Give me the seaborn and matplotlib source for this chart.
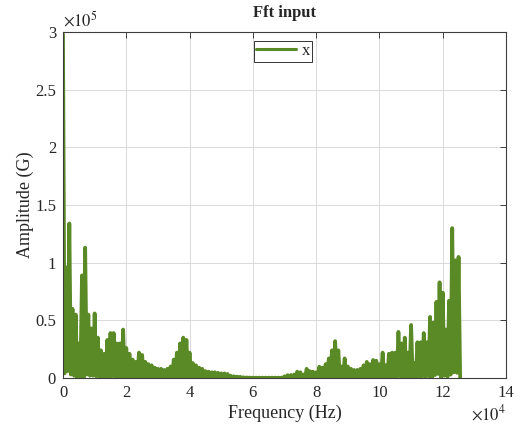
import numpy as np
import pandas as pd
import matplotlib
matplotlib.use("Agg")
import matplotlib.pyplot as plt
import seaborn as sns
from matplotlib.ticker import FuncFormatter, MultipleLocator

# envelope peaks (x1e3 G) read at 0, 1, 2, ... 125 kHz
peak_k = [298, 96, 134, 60, 55, 30, 89, 113, 55, 43,
          56, 35, 24, 21, 33, 39, 39, 30, 30, 42,
          26, 21, 16, 14, 22, 20, 14, 12, 11, 9,
          8, 8, 7, 8, 10, 16, 22, 30, 35, 33,
          22, 13, 11, 9, 8, 6, 5.5, 5, 5, 4.5,
          4, 4, 3.5, 2, 1.5, 1.2, 1, 0.6, 0.5, 0.4,
          0.3, 0.3, 0.3, 0.3, 0.3, 0.3, 0.3, 0.3, 0.3, 0.3,
          1.5, 2.5, 2.6, 3, 5.5, 5, 3, 8, 6, 5.5,
          5, 9.8, 9, 12, 17, 24, 32, 24, 10, 17,
          10, 8, 7, 7, 8, 11, 14, 12, 15.6, 15,
          12, 22, 11, 21, 22, 22, 40, 30, 35, 22,
          46, 13, 31, 31, 39, 31, 53, 48, 66, 83,
          74, 42, 67, 130, 102, 105]

# troughs (x1e3 G) between peaks, at 0.5, 1.5, ... 125.5 kHz
dip_k = [4, 6, 3, 2, 0, 1, 0, 3, 2, 2,
         1.5, 1, 1, 1, 0, 1.5, 1, 0, 1, 1,
         1, 0.6, 0.5, 0, 0.7, 0.5, 0.4, 0.4, 0.3, 0.3,
         0, 0.3, 0.3, 0.3, 0.5, 0.7, 1, 0, 1.2, 0,
         0.6, 0.5, 0.4, 0.3, 0.3, 0.3, 0.2, 0.2, 0.2, 0.2,
         0.2, 0.1, 0.1, 0.1, 0.1, 0.1, 0.1, 0, 0, 0,
         0, 0, 0, 0, 0, 0, 0, 0, 0, 0,
         0.1, 0.1, 0.2, 0.2, 0.2, 0, 0.2, 0.3, 0, 0.3,
         0.3, 0.4, 0.5, 0.6, 1, 1.2, 0, 0.6, 0.5, 0.6,
         0.4, 0, 0.3, 0.3, 0.4, 0, 0.6, 0.5, 0.7, 0.6,
         0.5, 0.6, 0.5, 0.8, 0, 1.2, 1.4, 0, 1, 1.2,
         0.6, 0.8, 0, 1.4, 1.2, 1.6, 0, 2.5, 3.5, 0,
         2, 1, 3, 5, 4.5, 0]

freq_step = 500  # Hz between consecutive samples

amps = []
for p, d in zip(peak_k, dip_k):
    amps += [p * 1e3, d * 1e3]
df = pd.DataFrame({"freq": np.arange(len(amps)) * freq_step, "amp": amps})

sns.set_style("white")
plt.rcParams["font.family"] = ["Liberation Serif", "DejaVu Serif"]
plt.rcParams["mathtext.fontset"] = "stix"

green = "#5A8A25"

fig = plt.figure(figsize=(5.19, 4.28), dpi=100)
ax = fig.add_axes([0.1214, 0.1168, 0.8536, 0.8084])

sns.lineplot(data=df, x="freq", y="amp", ax=ax, color=green, linewidth=2.7,
             label="x")

ax.set_xlim(0, 140000)
ax.set_ylim(0, 300000)
ax.xaxis.set_major_locator(MultipleLocator(20000))
ax.yaxis.set_major_locator(MultipleLocator(50000))
ax.xaxis.set_major_formatter(FuncFormatter(lambda v, _: f"{v / 1e4:g}"))
ax.yaxis.set_major_formatter(FuncFormatter(lambda v, _: f"{v / 1e5:g}"))

ax.grid(True, color="#d9d9d9", linewidth=0.7)
ax.set_axisbelow(True)
for s in ax.spines.values():
    s.set_color("#3d3d3d")
    s.set_linewidth(0.8)
ax.tick_params(direction="in", length=4, width=0.7, color="#3d3d3d",
               labelsize=12, top=True, right=True, pad=5)

ax.set_xlabel("Frequency (Hz)", fontsize=13, labelpad=3)
ax.set_ylabel("Amplitude (G)", fontsize=13, labelpad=1)
ax.set_title("Fft input", fontsize=12, fontweight="bold", pad=11)

ax.text(0.0, 1.005, r"$\times10^5$", transform=ax.transAxes, fontsize=12,
        ha="left", va="bottom")
ax.text(1.0, -0.075, r"$\times10^4$", transform=ax.transAxes, fontsize=12,
        ha="right", va="top")

leg = ax.legend(loc="upper center", bbox_to_anchor=(0.497, 0.975),
                fancybox=False, edgecolor="#333333", framealpha=1,
                fontsize=12, handlelength=2.4, borderpad=0.15,
                handletextpad=0.3, borderaxespad=0)
leg.get_frame().set_linewidth(0.7)
for line in leg.get_lines():
    line.set_linewidth(2.2)

fig.savefig("out.png", dpi=100)
